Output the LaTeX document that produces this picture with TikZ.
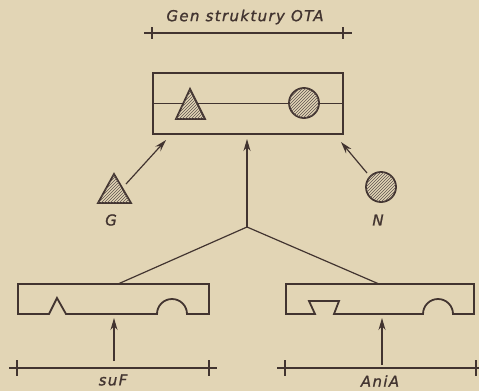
\documentclass[tikz,border=0pt]{standalone}
\usepackage{fontspec}
\newfontfamily\labfont{DejaVu Sans}[LetterSpace=9,FakeBold=1.2]
\usetikzlibrary{arrows.meta,patterns}
\definecolor{bgc}{RGB}{226,213,181}
\definecolor{ink}{RGB}{66,52,48}
\tikzset{
  ln/.style={draw=ink,line width=1.8pt,line join=miter},
  thin/.style={draw=ink,line width=1.2pt},
  arr/.style={draw=ink,line width=1.2pt,-{Stealth[length=12pt,width=7pt]}},
  hatch/.style={draw=ink,line width=1.8pt,fill=bgc,postaction={pattern=north east lines,pattern color=ink!85}},
  lab/.style={text=ink,font=\labfont\itshape\fontsize{15}{15}\selectfont,inner sep=0pt},
}
\begin{document}
\begin{tikzpicture}[x=1pt,y=-1pt]
\fill[bgc] (0,0) rectangle (479,391);
\useasboundingbox (0,0) rectangle (479,391);
% title
\node[lab] (title) at (245,17) {Gen struktury OTA};
\coordinate (tl) at (144,33); \coordinate (tr) at (352,33);
\draw[thin] (tl) -- (tr);
\draw[thin] (152,27) -- (152,39);
\draw[thin] (343,27) -- (343,39);
% top box
\node[ln,minimum width=190pt,minimum height=61pt,inner sep=0pt] (topbox) at (248,103.5) {};
\draw[ln] (topbox.west) -- (topbox.east);
\draw[hatch] (190,89) -- (205,119) -- (176,119) -- cycle;
\draw[hatch] (304,103) circle[radius=15];
% G and N
\draw[hatch] (114,174) -- (131,203) -- (98,203) -- cycle;
\node[lab] (G) at (111,220) {G};
\draw[hatch] (381,187) circle[radius=15];
\node[lab] (N) at (378,220) {N};
\coordinate (ga) at (126,184); \coordinate (gb) at (166,140);
\coordinate (na) at (367,173); \coordinate (nb) at (341,142);
\coordinate (hub) at (247,227); \coordinate (hubt) at (247,139);
\draw[arr] (ga) -- (gb);
\draw[arr] (na) -- (nb);
\draw[arr] (hub) -- (hubt);
\coordinate (lt) at (118,284); \coordinate (rt) at (379,284);
\draw[thin] (lt) -- (hub) -- (rt);
% left box
\draw[ln] (18,314) -- (18,284) -- (209,284) -- (209,314) -- (187,314)
  arc[start angle=0,end angle=-180,radius=15] -- (66,314) -- (57,298) -- (49,314) -- cycle;
% right box
\draw[ln] (286,314) -- (286,284) -- (474,284) -- (474,314) -- (453,314)
  arc[start angle=0,end angle=-180,radius=15] -- (334,314) -- (339,301) -- (309,301) -- (315,314) -- cycle;
% bottom arrows
\coordinate (la) at (114,361); \coordinate (lb) at (114,318);
\coordinate (ra) at (382,365); \coordinate (rb) at (382,318);
\draw[arr] (la) -- (lb);
\draw[arr] (ra) -- (rb);
% dimension lines
\draw[thin] (9,368) -- (217,368);
\draw[thin] (17,360) -- (17,376);
\draw[thin] (209,360) -- (209,376);
\draw[thin] (277,368) -- (479,368);
\draw[thin] (285,360) -- (285,376);
\draw[thin] (476,360) -- (476,376);
\node[lab] (suF) at (113,380) {suF};
\node[lab] (AniA) at (380,381) {AniA};
\end{tikzpicture}
\end{document}
